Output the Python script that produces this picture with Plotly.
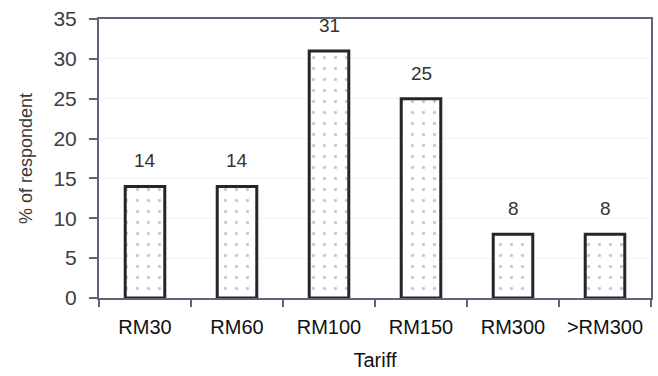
import plotly.graph_objects as go

categories = ["RM30", "RM60", "RM100", "RM150", "RM300", ">RM300"]
values = [14, 14, 31, 25, 8, 8]
y_ticks = [0, 5, 10, 15, 20, 25, 30, 35]

FONT = "Liberation Sans, Arial"

fig = go.Figure()
fig.add_trace(go.Bar(
    x=categories, y=values, width=0.43,
    marker=dict(color="white",
                line=dict(color="#262626", width=3),
                pattern=dict(shape=".", fgcolor="#9a9a9a", bgcolor="white", size=11, solidity=0.08)),
    showlegend=False,
))
for c, v in zip(categories, values):
    fig.add_annotation(x=c, y=v, text=str(v), showarrow=False, yanchor="bottom", yshift=13,
                       font=dict(family=FONT, size=19, color="#333333"))

fig.update_layout(
    width=658, height=376,
    margin=dict(l=99, r=5, t=19, b=78),
    paper_bgcolor="white", plot_bgcolor="white",
    bargap=0.57,
    xaxis=dict(
        title=dict(text="Tariff", font=dict(family=FONT, size=20, color="#111"), standoff=16),
        tickfont=dict(family=FONT, size=20, color="#111"),
        showline=True, linecolor="#5f6578", linewidth=2, mirror=True,
        ticks="outside", tickson="boundaries", ticklen=7, tickcolor="#5f6578", tickwidth=2,
        ticklabelstandoff=10,
        showgrid=False,
    ),
    yaxis=dict(
        title=dict(text="% of respondent", font=dict(family=FONT, size=18, color="#3a3a3a"), standoff=16),
        range=[0, 35], tickvals=y_ticks,
        tickfont=dict(family=FONT, size=21, color="#3d3d48"),
        showline=True, linecolor="#5f6578", linewidth=2, mirror=True,
        ticks="outside", ticklen=8, tickcolor="#5f6578", tickwidth=2,
        ticklabelstandoff=8,
        showgrid=True, gridcolor="#f2f2f2", zeroline=False,
    ),
)
fig.write_html("out.html")
